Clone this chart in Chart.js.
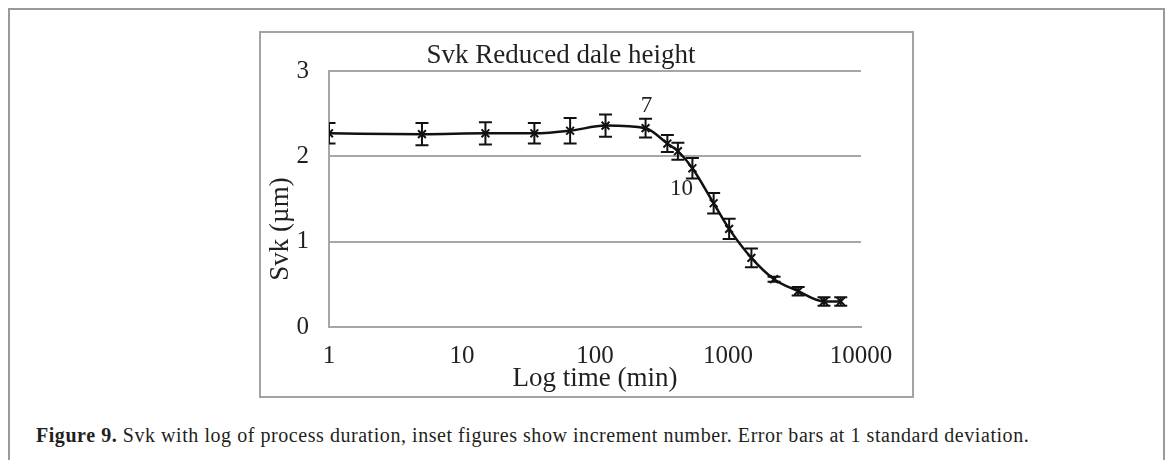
<!DOCTYPE html>
<html>
<head>
<meta charset="utf-8">
<script src="https://cdn.jsdelivr.net/npm/chart.js@4.4.1/dist/chart.umd.min.js"></script>
<style>
    html, body { margin: 0; padding: 0; background: #fff; }
    body { width: 1168px; height: 460px; position: relative; overflow: hidden; }
    .outer { position: absolute; left: 8px; top: 8px; width: 1157px; height: 480px; border: 2px solid #9a9a9a; box-sizing: border-box; }
    .chart-box { position: absolute; left: 259px; top: 31px; width: 651px; height: 363px; border: 2px solid #a3a3a3; }
    .chart-box canvas { display: block; }
    .caption { position: absolute; left: 36px; top: 424px; font-family: "Liberation Serif", serif; font-size: 20px; line-height: 23px; color: #231f20; white-space: nowrap; letter-spacing: 0.55px; }
    .caption b { font-weight: bold; }
</style>
</head>
<body>
<div class="outer"></div>
<div class="chart-box"><canvas id="svkChart" width="651" height="363"></canvas></div>
<div class="caption"><b>Figure 9.</b> Svk with log of process duration, inset figures show increment number. Error bars at 1 standard deviation.</div>

<script>
// process time (min) and Svk values
const timeMin = [1, 5, 15, 35, 65, 120, 240, 350, 420, 540, 780, 1020, 1500, 2220, 3370, 5270, 7040];
const svkValues = [2.27, 2.26, 2.27, 2.27, 2.30, 2.36, 2.33, 2.15, 2.06, 1.86, 1.45, 1.15, 0.81, 0.56, 0.42, 0.30, 0.30];
const svkStdDev = [0.12, 0.13, 0.13, 0.12, 0.15, 0.13, 0.11, 0.10, 0.10, 0.12, 0.12, 0.12, 0.11, 0.03, 0.05, 0.05, 0.05];
const xTickValues = [1, 10, 100, 1000, 10000];
const yTickValues = [0, 1, 2, 3];
// increment numbers written next to points (index into the series)
const insetLabels = [
    { index: 6, text: '7', dx: 1, dy: -22 },
    { index: 9, text: '10', dx: -11, dy: 21 }
];
const yTitle = 'Svk (µm)';

const FONT = 'Liberation Serif';
const TEXT = '#231f20';
const GRID = '#a6a6a6';

const errorBarPlugin = {
    id: 'errorBars',
    afterDatasetsDraw(chart) {
        const { ctx, chartArea, scales: { x, y } } = chart;
        ctx.save();
        ctx.beginPath();
        ctx.rect(chartArea.left, chartArea.top, chartArea.right - chartArea.left, chartArea.bottom - chartArea.top);
        ctx.clip();
        ctx.strokeStyle = '#111';
        ctx.lineWidth = 2;
        timeMin.forEach((t, i) => {
            const px = x.getPixelForValue(t);
            const top = y.getPixelForValue(svkValues[i] + svkStdDev[i]);
            const bot = y.getPixelForValue(svkValues[i] - svkStdDev[i]);
            ctx.beginPath();
            ctx.moveTo(px, top); ctx.lineTo(px, bot);
            ctx.moveTo(px - 6.5, top); ctx.lineTo(px + 6.5, top);
            ctx.moveTo(px - 6.5, bot); ctx.lineTo(px + 6.5, bot);
            ctx.stroke();
        });
        ctx.restore();
    }
};

const insetLabelPlugin = {
    id: 'insetLabels',
    afterDatasetsDraw(chart) {
        const { ctx, chartArea, scales: { x, y } } = chart;
        ctx.save();
        ctx.font = `23px "${FONT}"`;
        ctx.fillStyle = TEXT;
        ctx.textAlign = 'center';
        ctx.textBaseline = 'middle';
        insetLabels.forEach(l => {
            const px = x.getPixelForValue(timeMin[l.index]) + l.dx;
            const py = y.getPixelForValue(svkValues[l.index]) + l.dy;
            ctx.fillText(l.text, px, py);
        });
        // y axis title sits a little below the middle of the axis in the original
        ctx.font = `27px "${FONT}"`;
        ctx.translate(20, (chartArea.top + chartArea.bottom) / 2 + 30);
        ctx.rotate(-Math.PI / 2);
        ctx.fillText(yTitle, 0, 0);
        ctx.restore();
    }
};

new Chart(document.getElementById('svkChart'), {
    type: 'line',
    data: {
        datasets: [{
            label: 'Svk',
            data: timeMin.map((t, i) => ({ x: t, y: svkValues[i] })),
            borderColor: '#111',
            borderWidth: 2.5,
            pointStyle: 'crossRot',
            pointRadius: 5.5,
            pointBorderWidth: 2,
            pointBorderColor: '#111',
            pointBackgroundColor: '#111',
            cubicInterpolationMode: 'monotone',
            fill: false
        }]
    },
    options: {
        responsive: false,
        devicePixelRatio: 1,
        animation: false,
        layout: { padding: { left: 0, right: 51, top: 0, bottom: 0 } },
        plugins: {
            legend: { display: false },
            tooltip: { enabled: false },
            title: {
                display: true,
                text: 'Svk Reduced dale height',
                color: TEXT,
                font: { family: FONT, size: 27, weight: 'normal', lineHeight: 1 },
                padding: { top: 9, bottom: 2 }
            }
        },
        scales: {
            x: {
                type: 'logarithmic',
                min: 1,
                max: 10000,
                afterBuildTicks: s => { s.ticks = xTickValues.map(v => ({ value: v })); },
                afterFit: s => { s.height = 69; },
                grid: { display: false, drawTicks: false },
                border: { display: true, color: GRID, width: 2 },
                ticks: {
                    autoSkip: false,
                    maxRotation: 0,
                    padding: 14,
                    color: TEXT,
                    font: { family: FONT, size: 25 },
                    callback: v => String(v)
                },
                title: {
                    display: true,
                    text: 'Log time (min)',
                    color: TEXT,
                    font: { family: FONT, size: 27 },
                    padding: { top: 0, bottom: 1 }
                }
            },
            y: {
                min: 0,
                max: 3,
                afterBuildTicks: s => { s.ticks = yTickValues.map(v => ({ value: v })); },
                afterFit: s => { s.width = 68; },
                grid: { color: GRID, lineWidth: 2, drawTicks: false },
                border: { display: true, color: GRID, width: 2 },
                ticks: {
                    padding: 20,
                    color: TEXT,
                    font: { family: FONT, size: 25 }
                }
            }
        }
    },
    plugins: [errorBarPlugin, insetLabelPlugin]
});
</script>
</body>
</html>
